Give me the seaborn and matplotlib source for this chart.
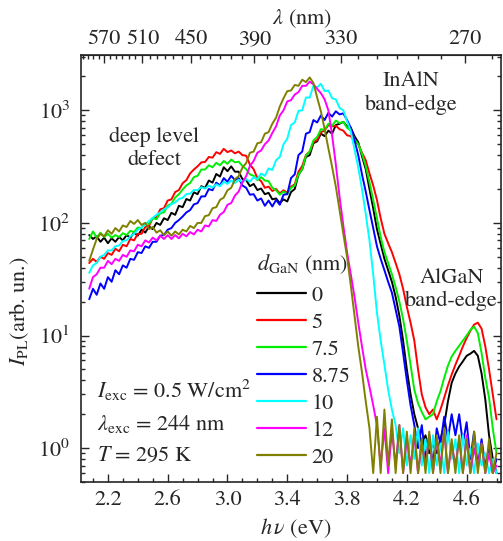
'''
Espectros de fotoluminiscencia (PL) para distintos espesores de GaN.
Eje inferior: energía del fotón (eV); eje superior: longitud de onda (nm).
'''

import numpy as np
import pandas as pd
import seaborn as sns
import matplotlib
matplotlib.use('Agg')
import matplotlib.pyplot as plt
from matplotlib.ticker import FixedLocator, LogLocator, MultipleLocator, NullFormatter

# Datos (paso de 0.025 eV)
energia = [2.075, 2.100, 2.125, 2.150, 2.175, 2.200, 2.225, 2.250, 2.275, 2.300,
           2.325, 2.350, 2.375, 2.400, 2.425, 2.450, 2.475, 2.500, 2.525, 2.550,
           2.575, 2.600, 2.625, 2.650, 2.675, 2.700, 2.725, 2.750, 2.775, 2.800,
           2.825, 2.850, 2.875, 2.900, 2.925, 2.950, 2.975, 3.000, 3.025, 3.050,
           3.075, 3.100, 3.125, 3.150, 3.175, 3.200, 3.225, 3.250, 3.275, 3.300,
           3.325, 3.350, 3.375, 3.400, 3.425, 3.450, 3.475, 3.500, 3.525, 3.550,
           3.575, 3.600, 3.625, 3.650, 3.675, 3.700, 3.725, 3.750, 3.775, 3.800,
           3.825, 3.850, 3.875, 3.900, 3.925, 3.950, 3.975, 4.000, 4.025, 4.050,
           4.075, 4.100, 4.125, 4.150, 4.175, 4.200, 4.225, 4.250, 4.275, 4.300,
           4.325, 4.350, 4.375, 4.400, 4.425, 4.450, 4.475, 4.500, 4.525, 4.550,
           4.575, 4.600, 4.625, 4.650, 4.675, 4.700, 4.725, 4.750, 4.775, 4.800]

espesores = ['0', '5', '7.5', '8.75', '10', '12', '20']
colores = ['#000000', '#ff0000', '#00ee00', '#0000ff', '#00ffff', '#ff00ff', '#808000']

pl_0 = [78, 72, 76, 68, 74, 66, 73, 68, 75, 70,
        78, 74, 82, 77, 87, 82, 93, 88, 100, 96,
        110, 106, 123, 118, 142, 138, 163, 158, 187, 180,
        212, 204, 238, 228, 272, 258, 312, 288, 318, 285,
        285, 245, 240, 212, 222, 196, 202, 180, 185, 162,
        165, 150, 162, 155, 188, 200, 268, 300, 385, 400,
        510, 530, 620, 590, 660, 620, 740, 760, 790, 720,
        700, 590, 520, 390, 300, 200, 135, 88, 65, 48,
        38, 30, 22, 15, 9.0, 5.0, 3.0, 2.0, 1.5, 1.1,
        1.3, 0.9, 1.1, 0.9, 1.2, 1.6, 2.6, 3.8, 4.6, 5.3,
        5.9, 6.6, 6.9, 7.3, 6.6, 4.6, 2.7, 1.3, 0.8, 0.6]
pl_5 = [44, 48, 45, 50, 48, 54, 52, 59, 56, 64,
        62, 72, 70, 80, 80, 92, 94, 110, 112, 132,
        135, 158, 162, 188, 196, 225, 240, 275, 298, 318,
        345, 348, 385, 380, 425, 410, 455, 425, 440, 415,
        430, 400, 395, 330, 300, 250, 235, 205, 210, 192,
        200, 183, 195, 185, 210, 220, 285, 320, 400, 430,
        520, 545, 640, 660, 740, 720, 730, 680, 660, 600,
        590, 530, 500, 420, 360, 275, 215, 160, 110, 80,
        66, 55, 44, 35, 26, 18, 13, 9.0, 5.0, 3.0,
        2.3, 2.0, 2.2, 1.8, 2.2, 2.8, 3.6, 4.5, 5.5, 6.6,
        8.0, 9.5, 11, 12.5, 13, 11.5, 8.0, 5.0, 3.0, 1.8]
pl_7p5 = [72, 84, 74, 82, 75, 80, 74, 78, 75, 81,
          78, 85, 83, 91, 90, 99, 98, 110, 108, 122,
          124, 142, 148, 168, 180, 198, 215, 226, 255, 262,
          298, 298, 325, 312, 342, 325, 355, 335, 365, 345,
          350, 320, 300, 270, 262, 240, 255, 238, 235, 205,
          195, 178, 190, 180, 205, 215, 270, 300, 395, 430,
          540, 580, 680, 670, 760, 730, 810, 770, 790, 700,
          660, 550, 500, 410, 320, 230, 160, 110, 75, 55,
          44, 35, 27, 20, 14, 9.0, 5.5, 3.3, 2.5, 2.1,
          1.8, 1.9, 2.0, 2.6, 3.2, 4.2, 5.4, 6.5, 7.3, 8.1,
          9.0, 10, 11.2, 12, 10.5, 7.0, 4.2, 2.8, 1.5, 0.9]
pl_8p75 = [21, 26, 23, 29, 26, 33, 30, 38, 35, 42,
           40, 48, 47, 55, 54, 62, 60, 68, 68, 77,
           78, 87, 90, 100, 106, 114, 124, 130, 146, 150,
           172, 172, 200, 195, 228, 215, 250, 232, 262, 240,
           250, 215, 205, 178, 180, 158, 165, 142, 158, 140,
           160, 145, 178, 180, 250, 270, 400, 430, 620, 640,
           820, 780, 900, 820, 950, 880, 980, 920, 940, 820,
           700, 540, 400, 270, 190, 130, 90, 62, 48, 38,
           30, 24, 17, 12, 7.0, 4.0, 2.4, 1.6, 1.0, 1.6,
           0.8, 1.3, 0.7, 1.5, 1.1, 1.9, 1.2, 2.0, 1.3, 2.0,
           1.1, 1.7, 0.8, 1.4, 0.7, 1.2, 0.7, 1.0, 0.6, 0.8]
pl_10 = [36, 42, 44, 50, 52, 57, 57, 62, 63, 69,
         70, 76, 80, 87, 91, 97, 104, 111, 118, 124,
         132, 137, 147, 152, 163, 167, 180, 182, 196, 195,
         208, 202, 214, 206, 220, 212, 232, 222, 238, 226,
         242, 230, 245, 232, 255, 245, 275, 262, 305, 295,
         360, 385, 500, 560, 740, 780, 990, 1000, 1300, 1300,
         1650, 1600, 1720, 1480, 1500, 1280, 1250, 1050, 1000, 800,
         650, 450, 310, 200, 120, 70, 35, 16, 9.0, 5.5,
         3.3, 2.2, 1.6, 0.9, 1.5, 0.7, 1.3, 0.8, 1.5, 0.7,
         1.2, 0.6, 1.3, 0.7, 1.1, 0.6, 1.4, 0.8, 1.2, 0.6,
         1.3, 0.7, 1.0, 0.6, 1.1, 0.7, 0.9, 0.6, 0.8, 0.6]
pl_12 = [26, 33, 35, 40, 40, 46, 43, 48, 46, 52,
         50, 57, 56, 64, 62, 70, 67, 74, 70, 77,
         72, 78, 72, 78, 73, 80, 76, 83, 79, 87,
         84, 95, 93, 106, 104, 118, 125, 145, 150, 175,
         190, 230, 260, 320, 355, 420, 440, 500, 540, 630,
         720, 900, 1000, 1200, 1230, 1380, 1450, 1650, 1650, 1800,
         1700, 1550, 1420, 1250, 1000, 600, 330, 170, 95, 55,
         35, 22, 13, 8.0, 5.0, 3.5, 2.4, 1.6, 0.7, 1.5,
         0.6, 1.4, 0.7, 1.6, 0.6, 1.2, 0.7, 1.3, 0.6, 1.1,
         0.7, 1.3, 0.6, 1.2, 0.7, 1.4, 0.6, 1.1, 0.7, 1.2,
         0.6, 1.3, 0.6, 1.0, 0.7, 1.1, 0.6, 0.9, 0.6, 0.7]
pl_20 = [46, 58, 72, 80, 76, 86, 80, 90, 84, 95,
         92, 104, 98, 106, 96, 100, 88, 92, 82, 86,
         78, 84, 77, 84, 79, 87, 84, 94, 90, 100,
         100, 115, 117, 135, 138, 160, 168, 195, 205, 245,
         260, 310, 340, 420, 430, 510, 520, 620, 640, 760,
         860, 1080, 1280, 1480, 1500, 1680, 1650, 1870, 1780, 1960,
         1750, 1300, 980, 680, 460, 315, 210, 130, 80, 50,
         28, 15, 8.0, 4.7, 2.6, 1.5, 0.6, 1.9, 0.6, 2.2,
         0.7, 1.8, 0.6, 1.6, 0.6, 1.4, 0.6, 1.5, 0.6, 1.2,
         0.6, 1.4, 0.6, 1.3, 0.6, 1.5, 0.6, 1.2, 0.6, 1.3,
         0.6, 1.2, 0.6, 1.4, 0.6, 1.1, 0.6, 1.2, 0.6, 0.9]

ticks_x = [2.2, 2.6, 3.0, 3.4, 3.8, 4.2, 4.6]
ticks_lambda = [570, 510, 450, 390, 330, 270]
ticks_lambda_menores = list(range(260, 620, 10))

HC = 1239.84  # eV·nm


def armar_tabla():
    '''
    Junta las series en un DataFrame largo para seaborn.
    '''
    series = [pl_0, pl_5, pl_7p5, pl_8p75, pl_10, pl_12, pl_20]
    partes = []
    for d, valores in zip(espesores, series):
        partes.append(pd.DataFrame({'energia': energia, 'intensidad': valores, 'espesor': d}))
    return pd.concat(partes, ignore_index=True)


def e_a_lambda(x):
    x = np.asarray(x, dtype=float)
    return HC / np.clip(x, 1e-3, None)


def generar_grafico(df):
    sns.set_style('ticks')
    plt.rcParams['font.family'] = ['STIXGeneral', 'DejaVu Serif']
    plt.rcParams['mathtext.fontset'] = 'stix'

    fig = plt.figure(figsize=(5.03, 5.41), dpi=100)
    ax = fig.add_axes([81 / 503, 59 / 541, 420 / 503, 427 / 541])

    sns.lineplot(
        data=df, x='energia', y='intensidad', hue='espesor',
        hue_order=espesores, palette=dict(zip(espesores, colores)),
        estimator=None, sort=False, linewidth=1.4, ax=ax
    )

    ax.set_yscale('log')
    ax.set_xlim(2.02, 4.83)
    ax.set_ylim(0.5, 3100)

    ax.set_xticks(ticks_x)
    ax.set_xticklabels([f'{t:.1f}' for t in ticks_x])
    ax.xaxis.set_minor_locator(MultipleLocator(0.1))
    ax.yaxis.set_major_locator(LogLocator(base=10))
    ax.yaxis.set_minor_locator(LogLocator(base=10, subs=np.arange(2, 10)))
    ax.yaxis.set_minor_formatter(NullFormatter())

    ax.tick_params(which='both', direction='in', top=False, right=True, labelsize=16)
    ax.tick_params(which='major', length=6, width=1)
    ax.tick_params(which='minor', length=3, width=1)
    ax.tick_params(axis='y', pad=8)
    ax.tick_params(axis='x', pad=6)
    for s in ax.spines.values():
        s.set_linewidth(1.2)

    ax.set_xlabel(r'$h\,\nu$ (eV)', fontsize=16)
    ax.set_ylabel(r'$I_{\rm PL}$(arb. un.)', fontsize=16)
    ax.xaxis.set_label_coords(0.512, -0.08)
    ax.yaxis.set_label_coords(-0.12, 0.40)

    # Eje superior en longitud de onda
    sec = ax.secondary_xaxis('top', functions=(e_a_lambda, e_a_lambda))
    sec.set_xticks(ticks_lambda)
    sec.xaxis.set_minor_locator(FixedLocator(ticks_lambda_menores))
    sec.tick_params(which='both', direction='in', labelsize=16, pad=4)
    sec.tick_params(which='major', length=6, width=1)
    sec.tick_params(which='minor', length=3, width=1)
    sec.set_xlabel(r'$\lambda$ (nm)', fontsize=16)
    sec.xaxis.set_label_coords(0.526, 1.072, transform=ax.transAxes)

    # Anotaciones
    ax.text(2.51, 460, 'deep level\ndefect', fontsize=16, ha='center', va='center', linespacing=1.2)
    ax.text(4.23, 1420, 'InAlN\nband-edge', fontsize=16, ha='center', va='center', linespacing=1.2)
    ax.text(4.50, 25.5, 'AlGaN\nband-edge', fontsize=16, ha='center', va='center', linespacing=1.2)

    ax.text(0.038, 0.197, r'$I_{\rm exc}$ = 0.5 W/cm$^2$', transform=ax.transAxes, fontsize=16, va='baseline')
    ax.text(0.038, 0.122, r'$\lambda_{\rm exc}$ = 244 nm', transform=ax.transAxes, fontsize=16, va='baseline')
    ax.text(0.038, 0.049, r'$T$ = 295 K', transform=ax.transAxes, fontsize=16, va='baseline')

    # Leyenda (el título va aparte para controlar su separación)
    ax.text((257 - 81) / 420, (482 - 264) / 427, r'$d_{\rm GaN}$ (nm)', transform=ax.transAxes,
            fontsize=16, va='center', ha='left')
    handles, labels = ax.get_legend_handles_labels()
    leg = ax.legend(
        handles, labels, loc='upper left',
        bbox_to_anchor=((257 - 81) / 420, (482 - 285) / 427),
        frameon=False, fontsize=16, borderpad=0, borderaxespad=0,
        handlelength=2.2, handletextpad=0.25, labelspacing=0.29
    )
    for linea in leg.get_lines():
        linea.set_linewidth(1.6)

    fig.savefig('out.png', dpi=100)


if __name__ == '__main__':
    tabla = armar_tabla()
    generar_grafico(tabla)
